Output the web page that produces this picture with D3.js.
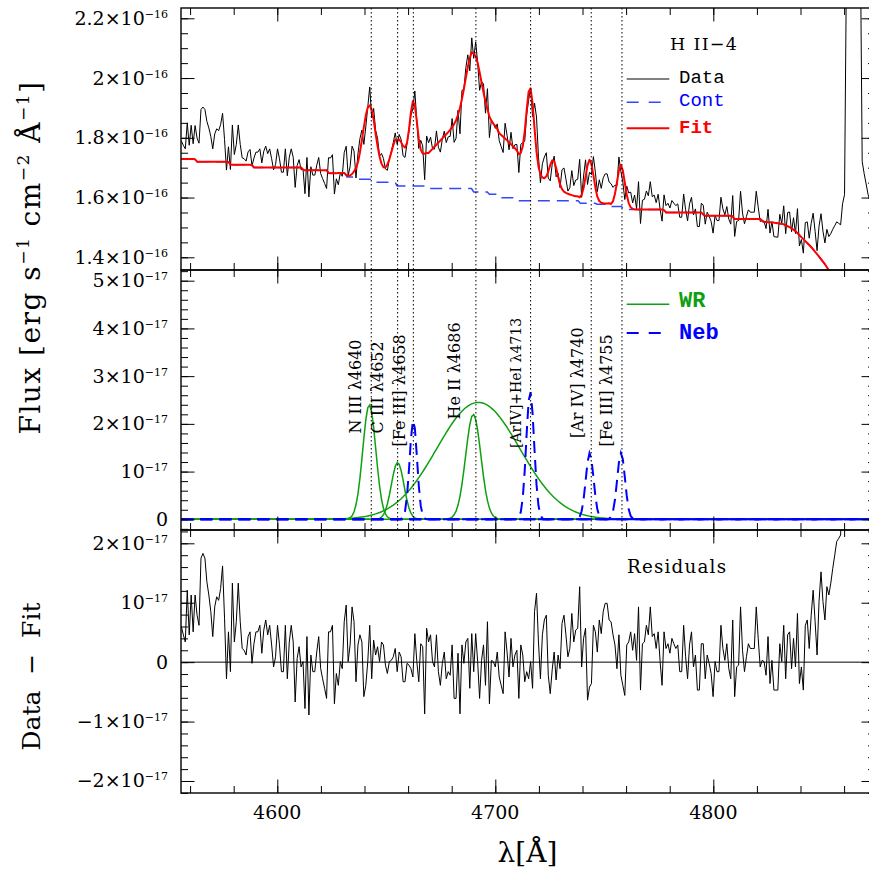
<!DOCTYPE html>
<html>
<head>
<meta charset="utf-8">
<script src="https://cdn.jsdelivr.net/npm/d3@7/dist/d3.min.js"></script>
<style>
html,body{margin:0;padding:0;background:#fff;}
svg{display:block;}
text{font-family:"DejaVu Serif",serif;white-space:pre;}
.mono{font-family:"Liberation Mono",monospace;}
</style>
</head>
<body>
<svg id="chart" width="869" height="871" xmlns="http://www.w3.org/2000/svg"></svg>
<script>
// ---------------- DATA ----------------
// spectral sampling (linear dispersion)
const lambdaStart = 4556.0;   // Å
const lambdaStep = 0.9;       // Å per pixel

// Residuals (Data − Fit), units of 1e-17 erg s^-1 cm^-2 Å^-1, one per spectral pixel
const residuals = [
0.60,0.46,0.34,1.21,0.46,1.13,0.51,1.13,0.79,0.62,
1.75,1.83,1.75,1.35,1.13,0.85,0.43,0.93,1.10,1.04,
1.24,1.62,0.74,-0.28,0.51,-0.16,1.33,0.34,0.68,1.33,
0.68,0.23,0.20,0.12,0.43,0.51,-0.02,0.31,0.51,0.51,
0.62,0.15,0.54,0.71,0.46,0.62,0.29,-0.08,0.09,0.62,
0.29,-0.16,-0.16,0.62,-0.28,0.34,0.62,0.34,-0.67,0.06,
0.26,-0.08,0.01,-0.78,0.43,-0.89,0.12,-0.16,-0.16,0.17,
0.43,-0.11,-0.28,-0.44,-0.61,0.51,0.51,0.62,-0.70,-0.19,
-0.39,0.01,-0.11,0.68,0.96,0.01,0.29,0.93,0.68,-0.33,
0.29,0.46,0.34,-0.58,-0.39,0.01,0.62,-0.28,0.37,0.12,
0.26,0.01,0.34,0.29,-0.05,-0.19,0.01,0.03,0.09,0.23,
-0.16,0.17,0.09,-0.33,-0.33,-0.02,
-0.05,-0.11,-0.25,0.48,0.01,-0.33,0.31,0.26,-0.87,0.57,
0.34,0.46,0.01,-0.08,0.46,-0.16,-0.39,-0.02,0.17,-0.28,
-0.16,-0.22,0.29,-0.61,-0.61,0.15,-0.87,0.29,-0.02,0.34,
0.40,-0.44,0.48,-0.16,0.48,0.01,-0.61,0.03,0.29,-0.39,
0.68,-0.70,0.03,0.01,-0.08,0.17,-0.25,-0.39,-0.53,0.51,
0.17,-0.25,0.40,-0.08,0.12,0.20,-0.61,0.29,0.12,-0.33,
-0.16,-0.28,0.01,-0.44,0.85,1.16,0.34,-0.28,0.46,0.71,
0.79,-0.22,-0.53,-0.13,0.17,-0.30,0.12,-0.11,0.65,0.79,
0.46,0.09,0.23,0.82,0.34,0.54,0.57,1.27,-0.08,0.40,
0.57,-0.64,-0.42,-0.36,0.62,0.51,0.17,0.71,0.48,0.85,
0.99,0.99,0.71,0.68,0.46,0.29,-0.11,0.46,-0.22,-0.39,
-0.56,0.29,0.34,0.51,0.20,0.48,0.03,
0.93,-0.47,0.31,0.34,0.62,0.46,0.93,0.43,0.48,0.23,
0.51,0.01,-0.39,0.51,0.23,0.31,0.15,0.40,0.31,0.23,
0.29,-0.16,-0.16,0.62,0.09,-0.28,0.29,0.51,-0.08,0.12,
-0.47,-0.47,0.31,0.31,-0.28,0.12,-0.02,-0.19,-0.58,0.01,
-0.16,-0.16,0.62,0.23,0.03,0.31,-0.11,-0.28,0.71,-0.58,
-0.08,-0.05,0.93,0.20,-0.16,0.09,0.31,0.23,0.23,0.23,
0.93,0.40,-0.08,0.03,0.01,-0.22,0.43,-0.36,0.03,-0.47,
-0.47,-0.47,0.31,0.01,0.62,-0.28,0.46,0.51,-0.11,0.40,
-0.08,0.82,-0.36,-0.08,-0.47,0.62,0.71,0.23,0.79,1.21,
0.68,0.12,1.02,1.52,1.02,0.71,1.27,1.13,1.33,1.58,
1.80,2.03,2.08,2.14,
2.97,3.39,11.41,27.5,47.7,57.8,47.9,33.0,20.2,13.3,5.65,5.38,5.17,4.95,4.89
];

// Continuum (stepwise), [λ Å, flux 1e-16]
const continuumKnots = [
[4555.0,1.729],[4562.2,1.729],[4563.2,1.720],[4577.5,1.720],[4578.5,1.710],[4588.2,1.710],
[4589.2,1.701],[4611.1,1.701],[4612.1,1.691],[4622.6,1.691],[4623.6,1.681],[4631.0,1.681],
[4632.0,1.669],[4635.6,1.669],[4636.6,1.661],[4644.0,1.661],[4645.0,1.651],[4654.0,1.651],
[4655.0,1.639],[4668.2,1.639],[4669.2,1.630],[4689.1,1.630],[4690.1,1.619],[4696.3,1.619],
[4697.3,1.611],[4700.6,1.611],[4701.6,1.599],[4709.8,1.599],[4710.8,1.589],[4738.0,1.589],
[4739.0,1.581],[4745.7,1.581],[4746.7,1.578],[4752.3,1.578],[4753.3,1.570],[4757.9,1.570],
[4758.9,1.560],[4777.2,1.560],[4778.2,1.550],[4794.8,1.550],[4795.8,1.539],[4808.6,1.539],
[4809.6,1.528],[4821.7,1.528],[4822.7,1.519],[4828.0,1.516],[4832.1,1.511],[4835.2,1.500],
[4837.5,1.489],[4839.8,1.472],[4842.1,1.455],[4845.1,1.433],[4848.2,1.405],[4851.2,1.377],
[4853.2,1.354],[4858.0,1.300],[4864.0,1.220],[4872.0,1.100],[4876.0,1.040]
];

// Gaussian components: centre (Å), peak (1e-17), sigma (Å)
const wrComponents = [
  {center:4642.2, peak:2.40, sigma:3.0},
  {center:4655.2, peak:1.19, sigma:2.9},
  {center:4689.9, peak:2.20, sigma:3.5},
  {center:4692.2, peak:2.45, sigma:19.0}
];
const nebComponents = [
  {center:4662.4, peak:2.08, sigma:1.7},
  {center:4716.0, peak:2.68, sigma:1.8},
  {center:4743.3, peak:1.39, sigma:1.8},
  {center:4757.7, peak:1.39, sigma:1.8}
];
const fitOnlyComponents = [
  {center:4726.6, peak:0.89, sigma:1.8}
];

// line markers (observed λ) and their labels
const lineMarkers = [4643.1, 4655.2, 4662.4, 4691.1, 4716.2, 4744.0, 4758.1];
const lineLabels = ["N III λ4640","C III λ4652","[Fe III] λ4658","He II λ4686","[ArIV]+HeI λ4713","[Ar IV] λ4740","[Fe III] λ4755"];

// ticks
const xMajorTicks = [4600, 4700, 4800];
const xTickLabels = ["4600", "4700", "4800"];
const fluxTicks = [1.4, 1.6, 1.8, 2.0, 2.2];
const fluxTickLabels = [["1.4×10","−16"],["1.6×10","−16"],["1.8×10","−16"],["2×10","−16"],["2.2×10","−16"]];
const compTicks = [0, 1, 2, 3, 4, 5];
const compTickLabels = [["0",""],["10","−17"],["2×10","−17"],["3×10","−17"],["4×10","−17"],["5×10","−17"]];
const residTicks = [-2, -1, 0, 1, 2];
const residTickLabels = [["−2×10","−17"],["−1×10","−17"],["0",""],["10","−17"],["2×10","−17"]];

// ---------------- LAYOUT ----------------
const labelLayout = [
  {dx:-9.8, y:433.5, fs:16},
  {dx:-14.7, y:433.5, fs:16},
  {dx:-8.3, y:446.5, fs:16},
  {dx:-16, y:419.5, fs:16},
  {dx:-10, y:448, fs:14},
  {dx:-8, y:438, fs:16},
  {dx:-9.6, y:446.5, fs:16}
];
const C = {data:"#000", cont:"#3347ff", fit:"#ff0000", wr:"#0fa00f", neb:"#0000ff"};
const XL = 181, XR = 875;
const P = {
  top:{y0:8,   y1:270, dom:[1.3575, 2.2345]},
  mid:{y0:270, y1:530, dom:[-0.224, 5.224]},
  bot:{y0:530, y1:793, dom:[-2.202, 2.224]}
};

const svg = d3.select("#chart");
const x = d3.scaleLinear().domain([4555.83, 4874.17]).range([XL, XR]);
const yTop = d3.scaleLinear().domain(P.top.dom).range([P.top.y1, P.top.y0]);
const yMid = d3.scaleLinear().domain(P.mid.dom).range([P.mid.y1, P.mid.y0]);
const yBot = d3.scaleLinear().domain(P.bot.dom).range([P.bot.y1, P.bot.y0]);

// derived series
const lam = residuals.map((_, i) => lambdaStart + i * lambdaStep);
const contAt = d3.scaleLinear().domain(continuumKnots.map(d => d[0])).range(continuumKnots.map(d => d[1])).clamp(true);
const gauss = (c, l) => c.peak * Math.exp(-0.5 * Math.pow((l - c.center) / c.sigma, 2));
const allComps = wrComponents.concat(nebComponents, fitOnlyComponents);
const fit = lam.map(l => contAt(l) + d3.sum(allComps, c => gauss(c, l)) / 10);
const dataFlux = lam.map((l, i) => fit[i] + residuals[i] / 10);

// clip paths
const defs = svg.append("defs");
Object.keys(P).forEach(k => {
  defs.append("clipPath").attr("id", "clip-" + k).append("rect")
    .attr("x", XL).attr("y", P[k].y0).attr("width", XR - XL).attr("height", P[k].y1 - P[k].y0);
});

// ---------- top panel ----------
const gTop = svg.append("g").attr("clip-path", "url(#clip-top)");
const lTop = d3.line().x(d => x(d[0])).y(d => yTop(d[1]));
gTop.append("path").datum(continuumKnots).attr("d", lTop).attr("fill", "none")
  .attr("stroke", C.cont).attr("stroke-width", 1.5).attr("stroke-dasharray", "12,7");
gTop.append("path").datum(lam.map((l, i) => [l, dataFlux[i]])).attr("d", lTop).attr("fill", "none")
  .attr("stroke", C.data).attr("stroke-width", 1).attr("stroke-linejoin", "round");
gTop.append("path").datum(lam.map((l, i) => [l, fit[i]])).attr("d", lTop).attr("fill", "none")
  .attr("stroke", C.fit).attr("stroke-width", 2).attr("stroke-linejoin", "round");

// ---------- middle panel ----------
const gMid = svg.append("g").attr("clip-path", "url(#clip-mid)");
const lMid = d3.line().x(d => x(d[0])).y(d => yMid(d[1]));
wrComponents.forEach(c => {
  gMid.append("path").datum(lam.map(l => [l, gauss(c, l)])).attr("d", lMid).attr("fill", "none")
    .attr("stroke", C.wr).attr("stroke-width", 1.5);
});
nebComponents.forEach(c => {
  gMid.append("path").datum(lam.map(l => [l, gauss(c, l)])).attr("d", lMid).attr("fill", "none")
    .attr("stroke", C.neb).attr("stroke-width", 2).attr("stroke-dasharray", "12,7");
});

// ---------- bottom panel ----------
const gBot = svg.append("g").attr("clip-path", "url(#clip-bot)");
const lBot = d3.line().x(d => x(d[0])).y(d => yBot(d[1]));
gBot.append("line").attr("x1", XL).attr("x2", XR).attr("y1", yBot(0)).attr("y2", yBot(0))
  .attr("stroke", "#000").attr("stroke-width", 1);
gBot.append("path").datum(lam.map((l, i) => [l, residuals[i]])).attr("d", lBot).attr("fill", "none")
  .attr("stroke", C.data).attr("stroke-width", 1).attr("stroke-linejoin", "round");

// ---------- line markers ----------
lineMarkers.forEach(l => {
  svg.append("line").attr("x1", x(l)).attr("x2", x(l)).attr("y1", P.top.y0).attr("y2", P.mid.y1)
    .attr("stroke", "#000").attr("stroke-width", 1).attr("stroke-dasharray", "1.5,2.5");
});
lineLabels.forEach((t, i) => {
  const L = labelLayout[i];
  svg.append("text").attr("transform", `translate(${x(lineMarkers[i]) + L.dx},${L.y}) rotate(-90)`)
    .attr("font-size", L.fs).attr("fill", "#000").text(t);
});

// ---------- frames & ticks ----------
const xMinor = d3.range(4560, 4875, 20);
function frame(p, yS, yMinor, yMajor) {
  const g = svg.append("g");
  const add = (axis, tx, ty) => {
    const a = g.append("g").attr("transform", `translate(${tx},${ty})`).call(axis);
    a.select(".domain").remove();
    a.selectAll(".tick text").remove();
    a.selectAll(".tick line").attr("stroke", "#000").attr("stroke-width", 1);
  };
  add(d3.axisBottom(x).tickValues(xMinor).tickSize(-7).tickFormat(""), 0, p.y1);
  add(d3.axisBottom(x).tickValues(xMajorTicks).tickSize(-13.5).tickFormat(""), 0, p.y1);
  add(d3.axisTop(x).tickValues(xMinor).tickSize(-7).tickFormat(""), 0, p.y0);
  add(d3.axisTop(x).tickValues(xMajorTicks).tickSize(-13.5).tickFormat(""), 0, p.y0);
  add(d3.axisLeft(yS).tickValues(yMinor).tickSize(-7).tickFormat(""), XL, 0);
  add(d3.axisLeft(yS).tickValues(yMajor).tickSize(-13.5).tickFormat(""), XL, 0);
  add(d3.axisRight(yS).tickValues(yMinor).tickSize(-7).tickFormat(""), XR, 0);
  add(d3.axisRight(yS).tickValues(yMajor).tickSize(-13.5).tickFormat(""), XR, 0);
  g.append("rect").attr("x", XL).attr("y", p.y0).attr("width", XR - XL).attr("height", p.y1 - p.y0)
    .attr("fill", "none").attr("stroke", "#000").attr("stroke-width", 1.4);
}
frame(P.top, yTop, d3.range(28, 45).map(k => +(k * 0.05).toFixed(2)), fluxTicks);
frame(P.mid, yMid, d3.range(-1, 27).map(k => +(k * 0.2).toFixed(1)), compTicks);
frame(P.bot, yBot, d3.range(-11, 12).map(k => +(k * 0.2).toFixed(1)), residTicks);

// tick labels
function yLabels(yS, ticks, labels) {
  ticks.forEach((t, i) => {
    const tx = svg.append("text").attr("x", 168).attr("y", yS(t) + 6.5)
      .attr("text-anchor", "end").attr("font-size", 19).attr("fill", "#000");
    tx.append("tspan").text(labels[i][0]);
    if (labels[i][1]) tx.append("tspan").attr("font-size", 11).attr("dy", -7).text(labels[i][1]);
  });
}
yLabels(yTop, fluxTicks, fluxTickLabels);
yLabels(yMid, compTicks, compTickLabels);
yLabels(yBot, residTicks, residTickLabels);
xMajorTicks.forEach((t, i) => {
  svg.append("text").attr("x", x(t)).attr("y", 818.5).attr("text-anchor", "middle")
    .attr("font-size", 19).text(xTickLabels[i]);
});

// axis titles
const ft = svg.append("text").attr("transform", "translate(40,257.5) rotate(-90)")
  .attr("text-anchor", "middle").attr("font-size", 28).attr("letter-spacing", 1.5);
ft.append("tspan").text("Flux [erg s");
ft.append("tspan").attr("font-size", 17).attr("dy", -11).text("−1");
ft.append("tspan").attr("dy", 11).text(" cm");
ft.append("tspan").attr("font-size", 17).attr("dy", -11).text("−2");
ft.append("tspan").attr("dy", 11).text(" Å");
ft.append("tspan").attr("font-size", 17).attr("dy", -11).text("−1");
ft.append("tspan").attr("dy", 11).text("]");
svg.append("text").attr("transform", "translate(40,676.5) rotate(-90)")
  .attr("text-anchor", "middle").attr("font-size", 25).text("Data  −  Fit");
svg.append("text").attr("x", 527.5).attr("y", 861.5).attr("text-anchor", "middle")
  .attr("font-size", 28).text("λ[Å]");

// legends
svg.append("text").attr("x", 670).attr("y", 50).attr("font-size", 17.5).attr("letter-spacing", 1.3).text("H II−4");
const leg = [
  {y:79, ty:82.5, txt:"Data", col:C.data, tcol:"#000", dash:null, w:1, bold:false, fs:19},
  {y:102.3, ty:106, txt:"Cont", col:C.cont, tcol:"#0000ff", dash:"12,10", w:1.5, bold:false, fs:19},
  {y:128.3, ty:133, txt:"Fit", col:C.fit, tcol:"#ff0000", dash:null, w:2, bold:true, fs:19},
  {y:304.3, ty:306.7, txt:"WR", col:C.wr, tcol:C.wr, dash:null, w:1.5, bold:true, fs:22},
  {y:333, ty:339, txt:"Neb", col:C.neb, tcol:C.neb, dash:"12,10", w:2, bold:true, fs:22}
];
leg.forEach(d => {
  const ln = svg.append("line").attr("x1", 626.7).attr("x2", 669.3).attr("y1", d.y).attr("y2", d.y)
    .attr("stroke", d.col).attr("stroke-width", d.w);
  if (d.dash) ln.attr("stroke-dasharray", d.dash);
  svg.append("text").attr("class", "mono").attr("x", 679).attr("y", d.ty).attr("font-size", d.fs)
    .attr("font-weight", d.bold ? "bold" : "normal").attr("fill", d.tcol).text(d.txt);
});
svg.append("text").attr("x", 627).attr("y", 573.3).attr("font-size", 18.3).attr("letter-spacing", 1.2).text("Residuals");
</script>
</body>
</html>
